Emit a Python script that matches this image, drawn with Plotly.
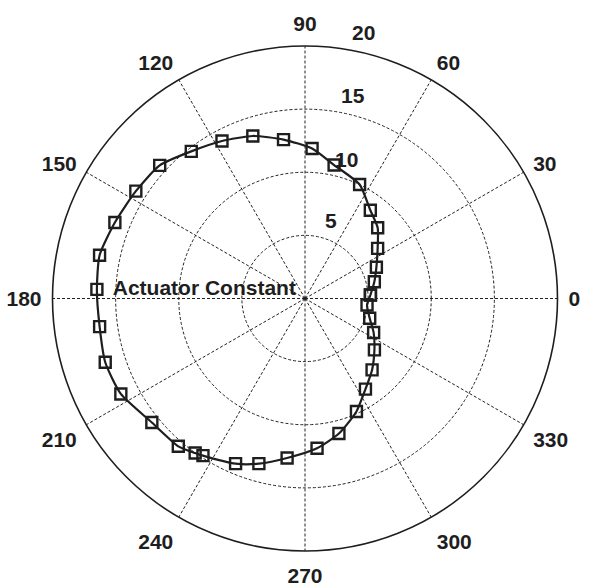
import math
import plotly.graph_objects as go

# Measured actuator constant around the circle (angle in degrees, magnitude)
theta_deg = [3.1, 13.6, 23.6, 34.6, 44.2, 53.5, 64.4, 77.7, 87.3, 97.7,
             107.8, 117.8, 127.7, 137.5, 147.6, 158.2, 168.1, 177.5, 187.8, 197.7,
             207.4, 219.0, 229.4, 234.6, 237.0, 247.2, 254.4, 263.6, 274.6, 284.1,
             294.5, 303.7, 313.2, 323.5, 333.6, 343.0, 354.0]
constant = [5.19, 5.65, 6.17, 6.99, 8.03, 8.70, 10.01, 10.82, 11.89, 12.70,
            13.52, 14.10, 14.73, 15.61, 15.87, 16.22, 16.63, 16.50, 16.42, 16.61,
            16.43, 15.61, 15.42, 15.02, 14.84, 14.19, 13.58, 12.71, 11.90, 11.03,
            9.83, 8.63, 7.76, 6.84, 6.07, 5.36, 4.94]

angle_ticks = list(range(0, 360, 30))
angle_labels = [str(a) for a in angle_ticks]
radial_ticks = [5, 10, 15, 20]
radial_labels = ["5", "10", "15", "20"]
R_MAX = 20

FONT = dict(family="Liberation Sans, Arial, sans-serif", size=21, color="#1e1e1e", weight="bold")

W, H = 593, 585
ML, MR, MT, MB = 52, 35, 46, 34

# close the loop
th = theta_deg + theta_deg[:1]
rr = constant + constant[:1]

fig = go.Figure()
fig.add_trace(go.Scatterpolar(
    r=rr, theta=th, mode="lines+markers",
    line=dict(color="#1e1e1e", width=2.2, shape="spline", smoothing=0.6),
    marker=dict(symbol="square-open", size=11, color="#1e1e1e",
                line=dict(width=2.4, color="#1e1e1e")),
    showlegend=False, hoverinfo="skip",
))

# radial scale labels, set just outside each ring near 75 degrees
label_r = [t + 1.5 for t in radial_ticks[:3]] + [radial_ticks[3] + 1.6]
label_th = [71.6, 73.4, 76.6, 77.6]
pw, ph = W - ML - MR, H - MT - MB
rad_px = min(pw, ph) / 2
for r, t, s in zip(label_r, label_th, radial_labels):
    fig.add_annotation(
        x=0.5 + r / R_MAX * rad_px * math.cos(math.radians(t)) / pw,
        y=0.5 + r / R_MAX * rad_px * math.sin(math.radians(t)) / ph,
        xref="paper", yref="paper", text=s, showarrow=False,
        font=FONT, xanchor="center", yanchor="middle",
    )

# series label
fig.add_trace(go.Scatterpolar(
    r=[8.0], theta=[175.2], mode="text", text=["Actuator Constant"],
    textfont=FONT, textposition="middle center", cliponaxis=False,
    showlegend=False, hoverinfo="skip",
))

fig.update_layout(
    width=W, height=H,
    margin=dict(l=ML, r=MR, t=MT, b=MB),
    paper_bgcolor="white",
    font=FONT,
    polar=dict(
        bgcolor="white",
        domain=dict(x=[0, 1], y=[0, 1]),
        radialaxis=dict(
            range=[0, R_MAX], tickmode="array", tickvals=radial_ticks,
            showticklabels=False, ticks="", showline=False,
            gridcolor="#222222", gridwidth=1, griddash="3px,2px",
        ),
        angularaxis=dict(
            tickmode="array", tickvals=angle_ticks, ticktext=angle_labels,
            rotation=0, direction="counterclockwise",
            ticks="outside", ticklen=6, tickcolor="rgba(0,0,0,0)",
            showline=True, linecolor="#1e1e1e", linewidth=1.6,
            gridcolor="#222222", gridwidth=1, griddash="3px,2px",
            tickfont=FONT,
        ),
    ),
)

fig.write_html("out.html")
